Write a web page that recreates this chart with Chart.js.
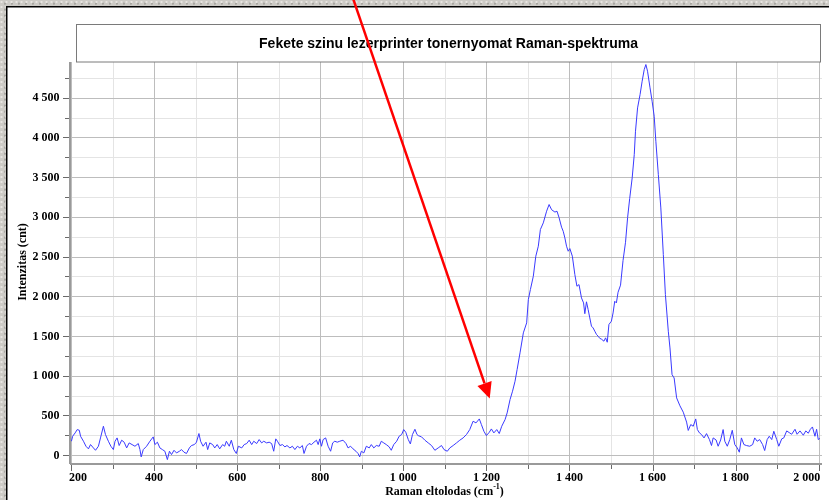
<!DOCTYPE html>
<html><head><meta charset="utf-8">
<script src="https://cdn.jsdelivr.net/npm/chart.js@4.4.1/dist/chart.umd.min.js"></script>
<style>
html,body{margin:0;padding:0;}
body{width:829px;height:500px;overflow:hidden;background-color:#cdcbc6;
background-image: radial-gradient(circle at 30% 40%, #e8e6e2 0.8px, transparent 1.4px), radial-gradient(circle at 70% 60%, #a8a6a1 0.8px, transparent 1.4px);
background-size:5px 5px, 7px 6px;}
canvas{display:block;}
</style></head><body>
<canvas id="c" width="829" height="500"></canvas>
<script>
const titleText = "Fekete szinu lezerprinter tonernyomat Raman-spektruma";
const xTitleMain = "Raman eltolodas (cm";
const xTitleSup = "-1";
const xTitleEnd = ")";
const yTitle = "Intenzitas (cnt)";

const ramanShift = [
 201,204,210,215,220,223,230,236,242,247,
 254,259,266,271,278,283,290,296,302,306,
 311,316,322,328,334,340,347,354,362,366,
 369,374,382,390,398,402,408,414,420,426,
 432,437,442,448,454,461,466,472,478,485,
 490,497,502,508,512,518,525,529,534,541,
 546,552,558,565,570,574,581,586,592,598,
 603,611,617,623,629,635,640,647,653,659,
 664,671,677,683,688,693,697,703,709,715,
 720,727,733,739,745,751,757,761,767,773,
 779,785,791,795,799,803,807,813,819,825,
 830,835,841,847,855,862,867,873,879,886,
 891,895,899,905,911,918,923,929,935,942,
 947,953,959,966,971,977,984,990,996,1001,
 1006,1012,1017,1022,1028,1033,1036,1044,1052,1060,
 1068,1076,1084,1092,1098,1106,1112,1120,1128,1136,
 1144,1152,1160,1168,1175,1183,1188,1194,1200,1207,
 1212,1218,1225,1231,1237,1245,1250,1257,1263,1269,
 1274,1281,1289,1297,1301,1306,1313,1319,1325,1330,
 1337,1345,1351,1357,1365,1370,1375,1381,1385,1389,
 1393,1397,1401,1407,1413,1418,1423,1429,1434,1437,
 1441,1445,1449,1453,1457,1461,1465,1469,1473,1477,
 1483,1487,1491,1495,1501,1505,1509,1513,1517,1523,
 1529,1535,1540,1545,1551,1556,1559,1564,1570,1575,
 1580,1584,1588,1594,1599,1604,1608,1614,1620,1626,
 1631,1638,1642,1647,1652,1658,1666,1674,1682,1686,
 1692,1698,1704,1708,1713,1718,1724,1730,1737,1742,
 1746,1753,1758,1764,1770,1774,1780,1786,1792,1798,
 1804,1809,1814,1820,1826,1834,1841,1846,1852,1858,
 1865,1870,1876,1881,1887,1892,1899,1904,1911,1916,
 1923,1929,1935,1943,1948,1955,1963,1969,1975,1980,
 1985,1991,1995,1999,2003
];
const intensity = [
 174,237,279,321,312,237,174,111,78,132,
 90,60,111,216,363,258,174,111,69,174,
 216,120,187,162,90,153,132,111,145,69,
 -23,69,111,174,229,132,162,90,69,48,
 -57,48,6,60,27,48,69,36,20,90,
 120,132,162,271,174,111,162,69,153,132,
 90,132,78,132,111,174,111,187,69,20,
 111,90,132,145,187,132,174,145,195,153,
 174,153,162,145,48,204,174,120,132,103,
 120,90,111,69,111,90,120,20,111,145,
 132,162,187,132,204,111,195,216,111,48,
 153,174,162,174,187,145,90,111,78,48,
 20,-23,48,27,111,90,132,90,120,111,
 174,153,132,103,60,132,174,237,258,321,
 287,195,140,258,325,258,245,229,187,153,
 120,60,90,120,69,48,90,120,153,187,
 216,258,321,426,405,455,384,300,245,287,
 329,279,321,271,363,447,531,699,804,930,
 1077,1287,1539,1665,1958,2084,2252,2504,2630,2840,
 2924,3071,3155,3090,3060,3071,2990,2870,2818,2734,
 2630,2567,2600,2504,2273,2126,2147,1979,1916,1780,
 1930,1832,1727,1623,1601,1560,1520,1497,1470,1460,
 1434,1476,1421,1644,1686,1790,1937,1916,2050,2140,
 2450,2680,2990,3230,3490,3784,4078,4372,4540,4708,
 4855,4918,4834,4624,4456,4267,3952,3532,3112,2525,
 2021,1559,1349,1013,971,720,620,540,415,310,
 384,363,455,321,279,258,216,270,195,120,
 216,190,111,190,321,174,111,195,312,132,
 90,36,216,132,120,111,132,216,174,195,
 132,57,195,237,195,300,195,111,204,216,
 304,283,262,325,262,304,250,304,275,325,
 354,237,325,195,210
];

const xTickValues = [200,400,600,800,1000,1200,1400,1600,1800,2000];
const xTickLabels = ["200","400","600","800","1 000","1 200","1 400","1 600","1 800","2 000"];
const xMinorTicks = [300,500,700,900,1100,1300,1500,1700,1900];
const yTickValues = [0,500,1000,1500,2000,2500,3000,3500,4000,4500];
const yTickLabels = ["0","500","1 000","1 500","2 000","2 500","3 000","3 500","4 000","4 500"];
const yMinorTicks = [250,750,1250,1750,2250,2750,3250,3750,4250,4750];

// annotation arrow, in data coordinates
const arrowFrom = {x: 880, y: 5735};
const arrowTo = {x: 1208, y: 711};

const points = ramanShift.map((w, i) => ({x: w, y: intensity[i]}));

const MAJOR = '#bdbdbd', MINOR = '#e4e4e4';
const serif = '"Liberation Serif", "Times New Roman", serif';

const decor = {
  id: 'decor',
  beforeDraw(chart) {
    const ctx = chart.ctx;
    ctx.save();
    ctx.fillStyle = '#ffffff';
    ctx.fillRect(6, 6, 823, 494);
    ctx.strokeStyle = '#000';
    ctx.lineWidth = 1.5;
    ctx.beginPath();
    ctx.moveTo(6.75, 500); ctx.lineTo(6.75, 6.75); ctx.lineTo(829, 6.75);
    ctx.stroke();
    ctx.restore();
  },
  beforeDatasetsDraw(chart) {
    const ctx = chart.ctx;
    const xs = chart.scales.x, ys = chart.scales.y;
    const a = chart.chartArea;
    ctx.save();
    ctx.lineWidth = 1;
    const grid = (xv, yv, color) => {
      ctx.strokeStyle = color;
      ctx.beginPath();
      xv.forEach(v => {
        const px = Math.round(xs.getPixelForValue(v)) + 0.5;
        ctx.moveTo(px, a.top); ctx.lineTo(px, a.bottom);
      });
      yv.forEach(v => {
        const py = Math.round(ys.getPixelForValue(v)) + 0.5;
        ctx.moveTo(a.left, py); ctx.lineTo(a.right, py);
      });
      ctx.stroke();
    };
    grid(xMinorTicks, yMinorTicks, MINOR);
    grid(xTickValues, yTickValues, MAJOR);
    // axis lines
    ctx.strokeStyle = '#9a9a9a';
    ctx.lineWidth = 2;
    ctx.beginPath();
    ctx.moveTo(a.left - 1, a.top); ctx.lineTo(a.left - 1, a.bottom + 1);
    ctx.moveTo(a.left - 1, a.bottom + 1); ctx.lineTo(a.right, a.bottom + 1);
    ctx.stroke();
    ctx.restore();
  },
  afterDraw(chart) {
    const ctx = chart.ctx;
    const xs = chart.scales.x, ys = chart.scales.y;
    const area = chart.chartArea;
    ctx.save();
    // title box
    ctx.fillStyle = '#fff';
    ctx.fillRect(76, 24, 745, 38);
    ctx.strokeStyle = '#7a7a7a';
    ctx.lineWidth = 1;
    ctx.strokeRect(76.5, 24.5, 744, 37.5);
    ctx.fillStyle = '#000';
    ctx.font = 'bold 14px "Liberation Sans", Arial, sans-serif';
    ctx.textAlign = 'center';
    ctx.textBaseline = 'middle';
    ctx.fillText(titleText, 448.5, 44);

    // tick marks
    ctx.strokeStyle = '#6a6a6a';
    ctx.lineWidth = 1;
    const yTick = (v, len) => {
      const py = Math.round(ys.getPixelForValue(v)) + 0.5;
      ctx.beginPath(); ctx.moveTo(area.left - 2 - len, py); ctx.lineTo(area.left - 2, py); ctx.stroke();
    };
    const xTick = (v, len) => {
      const px = Math.round(xs.getPixelForValue(v)) + 0.5;
      ctx.beginPath(); ctx.moveTo(px, area.bottom + 2); ctx.lineTo(px, area.bottom + 2 + len); ctx.stroke();
    };
    yTickValues.forEach(v => yTick(v, 6));
    yMinorTicks.forEach(v => yTick(v, 4));
    xTickValues.forEach(v => xTick(v, 6));
    xMinorTicks.forEach(v => xTick(v, 4));

    // tick labels
    ctx.fillStyle = '#000';
    ctx.font = 'bold 12px ' + serif;
    ctx.textBaseline = 'middle';
    ctx.textAlign = 'right';
    yTickValues.forEach((v, i) => {
      ctx.fillText(yTickLabels[i], 59.5, ys.getPixelForValue(v) + 0.5);
    });
    xTickValues.forEach((v, i) => {
      const px = xs.getPixelForValue(v);
      if (i === 0) { ctx.textAlign = 'left'; ctx.fillText(xTickLabels[i], px - 2, 478); }
      else if (i === xTickValues.length - 1) { ctx.textAlign = 'right'; ctx.fillText(xTickLabels[i], px + 1.5, 478); }
      else { ctx.textAlign = 'center'; ctx.fillText(xTickLabels[i], px, 478); }
    });

    // x axis title with superscript
    ctx.font = 'bold 12px ' + serif;
    const w1 = ctx.measureText(xTitleMain).width;
    const w3 = ctx.measureText(xTitleEnd).width;
    ctx.font = 'bold 8px ' + serif;
    const w2 = ctx.measureText(xTitleSup).width;
    let sx = 444.5 - (w1 + w2 + w3) / 2;
    ctx.textAlign = 'left';
    ctx.textBaseline = 'alphabetic';
    ctx.font = 'bold 12px ' + serif;
    ctx.fillText(xTitleMain, sx, 495);
    ctx.font = 'bold 8px ' + serif;
    ctx.fillText(xTitleSup, sx + w1, 489);
    ctx.font = 'bold 12px ' + serif;
    ctx.fillText(xTitleEnd, sx + w1 + w2, 495);

    // y axis title
    ctx.save();
    ctx.translate(22.5, 262);
    ctx.rotate(-Math.PI / 2);
    ctx.textAlign = 'center';
    ctx.textBaseline = 'middle';
    ctx.font = 'bold 12px ' + serif;
    ctx.fillText(yTitle, 0, 0);
    ctx.restore();

    // arrow
    const x0 = xs.getPixelForValue(arrowFrom.x), y0 = ys.getPixelForValue(arrowFrom.y);
    const x1 = xs.getPixelForValue(arrowTo.x), y1 = ys.getPixelForValue(arrowTo.y);
    const ang = Math.atan2(y1 - y0, x1 - x0);
    const hl = 16, hw = 7.5;
    const bx = x1 - hl * Math.cos(ang), by = y1 - hl * Math.sin(ang);
    ctx.strokeStyle = '#ff0000';
    ctx.fillStyle = '#ff0000';
    ctx.lineWidth = 2.5;
    ctx.beginPath(); ctx.moveTo(x0, y0); ctx.lineTo(bx, by); ctx.stroke();
    ctx.beginPath();
    ctx.moveTo(x1, y1);
    ctx.lineTo(bx + hw * Math.sin(ang), by - hw * Math.cos(ang));
    ctx.lineTo(bx - hw * Math.sin(ang), by + hw * Math.cos(ang));
    ctx.closePath(); ctx.fill();
    ctx.restore();
  }
};

new Chart(document.getElementById('c'), {
  type: 'line',
  data: {
    datasets: [{
      data: points,
      borderColor: '#3a3aff',
      borderWidth: 1,
      pointRadius: 0,
      tension: 0,
      fill: false
    }]
  },
  options: {
    responsive: false,
    animation: false,
    devicePixelRatio: 1,
    layout: { padding: { left: 71, top: 62, right: 7, bottom: 37 } },
    plugins: { legend: { display: false }, title: { display: false }, tooltip: { enabled: false } },
    scales: {
      x: {
        type: 'linear', min: 200, max: 2008,
        afterFit: s => { s.height = 0; },
        ticks: { display: false, stepSize: 100 },
        grid: { display: false, drawTicks: false },
        border: { display: false }
      },
      y: {
        type: 'linear', min: -100, max: 4950,
        afterFit: s => { s.width = 0; },
        ticks: { display: false, stepSize: 250 },
        grid: { display: false, drawTicks: false },
        border: { display: false }
      }
    }
  },
  plugins: [decor]
});
</script>
</body></html>
